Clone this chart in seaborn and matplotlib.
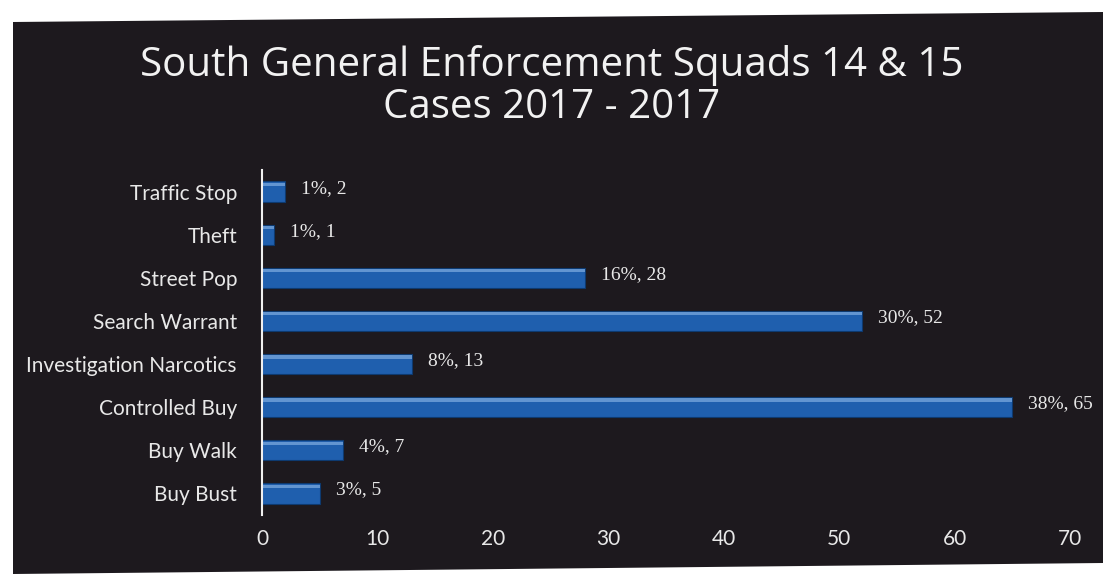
import matplotlib
matplotlib.use('Agg')
import matplotlib.pyplot as plt
from matplotlib.patches import Polygon
import pandas as pd
import seaborn as sns

# values
categories = ['Traffic Stop', 'Theft', 'Street Pop', 'Search Warrant',
              'Investigation Narcotics', 'Controlled Buy', 'Buy Walk', 'Buy Bust']
cases = [2, 1, 28, 52, 13, 65, 7, 5]
percents = [1, 1, 16, 30, 8, 38, 4, 3]
x_ticks = [0, 10, 20, 30, 40, 50, 60, 70]

df = pd.DataFrame({'category': categories, 'cases': cases, 'pct': percents})

sns.set_theme(style='white')
plt.rcParams['font.family'] = ['Lato', 'DejaVu Sans']

W, H = 1103, 574
fig = plt.figure(figsize=(W / 100, H / 100), dpi=100)
fig.patch.set_facecolor('white')

# dark panel (slightly skewed like the scan)
panel = Polygon([(13 / W, 1 - 22 / H), (1.0, 1 - 12 / H), (1.0, 1 - 563 / H), (13 / W, 0.0)],
                closed=True, transform=fig.transFigure, facecolor='#1d191e',
                edgecolor='none', zorder=-5)
fig.patches.append(panel)

ax = fig.add_axes([262 / W, 1 - 515 / H, 808 / W, 345 / H])
ax.set_facecolor('none')
ax.set_zorder(2)

sns.barplot(data=df, x='cases', y='category', orient='h', color='#1f5fae',
            width=0.47, saturation=1, edgecolor='#0d3a70', linewidth=0.8, ax=ax)

# light top highlight on each bar
for p in list(ax.patches):
    y0 = p.get_y()
    ax.barh(y0 + p.get_height() * 0.15, p.get_width(), height=p.get_height() * 0.16,
            left=0, color='#7aa8de', alpha=0.75, linewidth=0)

for i, (c, pc) in enumerate(zip(cases, percents)):
    ax.text(c + 1.4, i - 0.08, f'{pc}%, {c}', va='center', ha='left', color='#e8e8e8',
            fontsize=14, family=['Liberation Serif', 'DejaVu Serif'], clip_on=False)

ax.set_xlim(0, 70)
ax.set_ylim(7.5, -0.5)
ax.set_xticks(x_ticks)
ax.set_xticklabels([str(t) for t in x_ticks], color='#e8e8e8', fontsize=15)
ax.tick_params(axis='x', length=0, pad=10)
ax.tick_params(axis='y', length=0, pad=18, labelcolor='#e8e8e8', labelsize=15)
ax.set_xlabel('')
ax.set_ylabel('')

for s in ['top', 'right', 'bottom']:
    ax.spines[s].set_visible(False)
ax.spines['left'].set_color('#f0f0f0')
ax.spines['left'].set_linewidth(1.5)

fig.text(552 / W, 1 - 66 / H, 'South General Enforcement Squads 14 & 15',
         ha='center', va='center', color='#f2f2f2', fontsize=29,
         family=['Open Sans', 'DejaVu Sans'], fontweight='medium')
fig.text(552 / W, 1 - 108 / H, 'Cases 2017 - 2017',
         ha='center', va='center', color='#f2f2f2', fontsize=29,
         family=['Open Sans', 'DejaVu Sans'], fontweight='medium')

fig.savefig('out.png', dpi=100, facecolor=fig.get_facecolor())
